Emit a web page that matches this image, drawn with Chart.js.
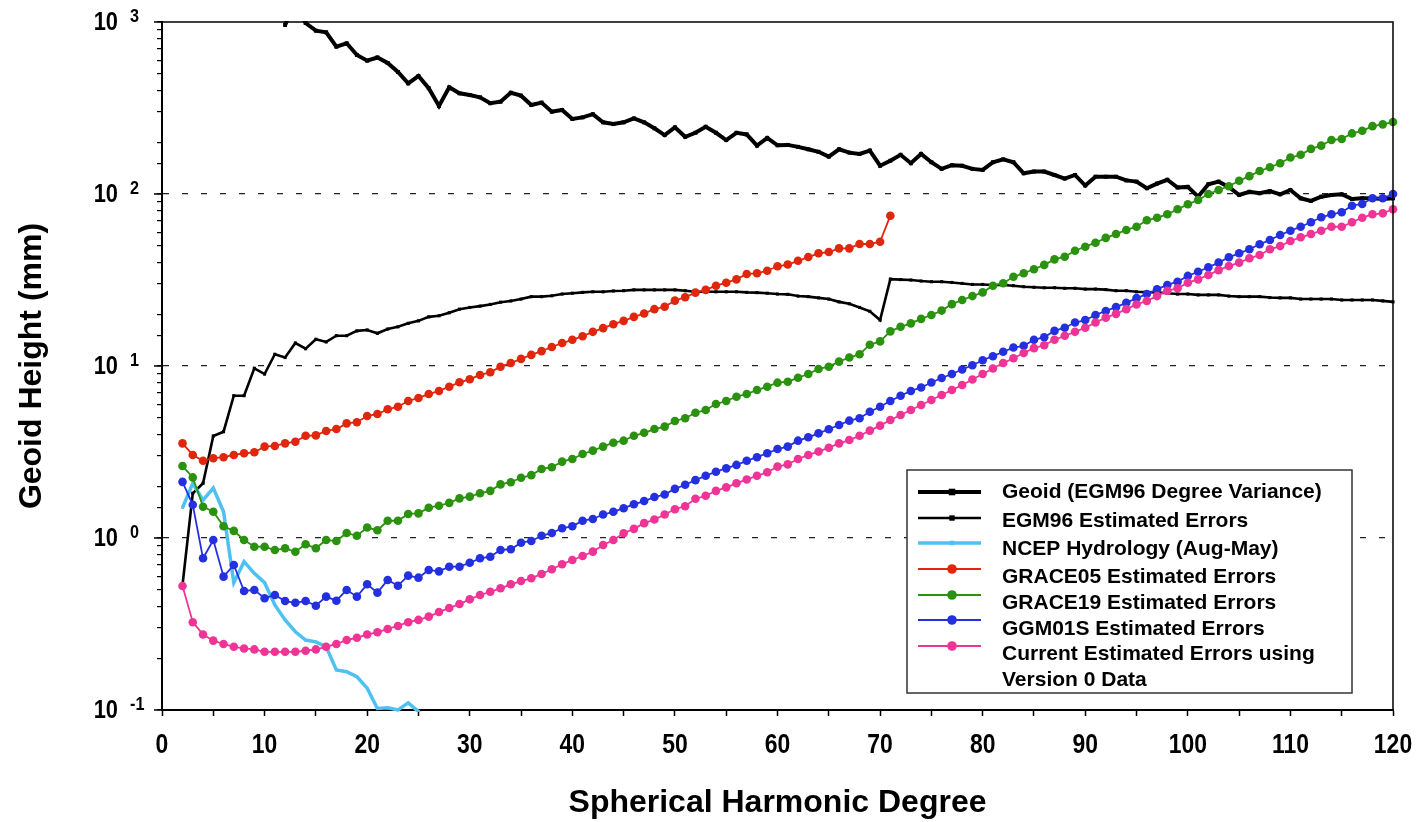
<!DOCTYPE html>
<html>
<head>
<meta charset="utf-8">
<script src="https://cdn.jsdelivr.net/npm/chart.js@4.4.1/dist/chart.umd.min.js"></script>
<style>
  html, body { margin: 0; padding: 0; background: #fff; }
  #wrap { width: 1418px; height: 822px; position: relative; }
</style>
</head>
<body>
<div id="wrap"><canvas id="geoidChart"></canvas></div>
<script>
// spherical harmonic degree (x) shared by all series
const degree = [2,3,4,5,6,7,8,9,10,11,12,13,14,15,16,17,18,19,20,21,22,23,24,25,26,27,28,29,30,31,
  32,33,34,35,36,37,38,39,40,41,42,43,44,45,46,47,48,49,50,51,52,53,54,55,56,57,58,59,60,61,
  62,63,64,65,66,67,68,69,70,71,72,73,74,75,76,77,78,79,80,81,82,83,84,85,86,87,88,89,90,91,
  92,93,94,95,96,97,98,99,100,101,102,103,104,105,106,107,108,109,110,111,112,113,114,115,116,117,118,119,120];

// geoid height in mm, one value per degree (null = off the top of the chart)
const geoidVariance = [null,null,null,null,null,null,null,null,null,null,
  961,1300,987,890,871,719,752,643,596,622,
  578,512,440,485,412,325,417,385,376,365,
  337,344,388,373,329,340,301,308,273,279,
  291,261,255,261,275,261,241,220,244,215,
  227,246,227,206,227,222,191,212,192,193,
  188,182,176,165,182,174,171,179,146,156,
  169,151,171,153,140,147,146,140,138,153,
  159,153,132,135,135,129,123,129,112,126,
  126,126,120,118,108,115,121,109,110,96.5,
  114,118,110,98.7,103,101,104,99.6,105.5,94.4,
  91.1,96.5,98.7,99.6,93.5,94.4,94.4,93.5,94.4];

const egm96Errors = [0.533,1.82,2.08,3.92,4.15,6.72,6.72,9.70,8.98,11.7,
  11.2,13.6,12.6,14.3,13.8,15.0,15.0,16.0,16.2,15.5,
  16.4,16.9,17.7,18.3,19.3,19.6,20.4,21.4,21.9,22.3,
  22.8,23.5,23.9,24.5,25.3,25.3,25.6,26.2,26.5,26.8,
  27.0,27.0,27.3,27.4,27.7,27.7,27.7,27.7,27.7,27.4,
  27.0,27.0,27.0,27.0,27.0,26.8,26.7,26.5,26.2,26.1,
  25.5,25.3,24.9,24.5,23.6,23.0,21.9,20.8,18.5,32.0,
  31.8,31.6,31.2,30.9,30.9,30.6,30.2,29.8,29.8,29.6,
  29.6,29.3,28.9,28.7,28.5,28.5,28.3,28.3,28.0,28.0,
  27.8,27.4,27.4,27.0,26.9,26.8,26.5,26.2,26.2,25.9,
  25.9,25.9,25.5,25.3,25.3,25.3,25.0,24.9,24.9,24.5,
  24.5,24.5,24.5,24.2,24.2,24.2,24.2,23.9,23.6];

// degrees 2..26
const ncepHydrology = [1.50,2.08,1.66,1.95,1.42,0.550,0.728,0.623,0.550,0.408,
  0.334,0.285,0.255,0.249,0.233,0.171,0.167,0.156,0.134,0.102,
  0.103,0.100,0.110,0.098,0.081];

// degrees 2..71
const grace05Errors = [3.55,3.04,2.81,2.91,2.95,3.04,3.11,3.15,3.40,3.43,
  3.55,3.63,3.93,3.95,4.19,4.30,4.64,4.71,5.12,5.26,
  5.60,5.80,6.26,6.52,6.87,7.16,7.58,8.04,8.37,8.87,
  9.19,9.91,10.4,11.0,11.6,12.2,12.9,13.6,14.2,14.9,
  15.8,16.6,17.5,18.3,19.3,20.2,21.4,22.1,24.0,25.1,
  26.7,27.7,29.3,30.5,31.9,34.3,34.6,35.8,38.0,38.9,
  40.9,43.0,45.2,46.0,48.3,48.3,51.2,51.2,52.8,74.8];

const grace19Errors = [2.62,2.25,1.52,1.42,1.17,1.10,0.974,0.890,0.890,0.851,
  0.871,0.832,0.919,0.871,0.974,0.960,1.07,1.03,1.15,1.11,
  1.26,1.26,1.38,1.39,1.50,1.54,1.60,1.70,1.74,1.82,
  1.88,2.05,2.11,2.24,2.32,2.52,2.58,2.78,2.88,3.08,
  3.22,3.40,3.58,3.68,3.93,4.09,4.30,4.44,4.79,4.97,
  5.35,5.55,6.01,6.26,6.63,6.87,7.25,7.58,8.00,8.10,
  8.55,8.98,9.61,9.91,10.6,11.2,11.7,13.3,13.9,15.9,
  16.9,17.7,18.8,19.8,21.0,22.9,24.2,25.5,26.8,29.3,
  30.3,33.0,34.6,36.5,38.7,41.7,43.2,46.8,49.4,52.1,
  55.6,58.5,61.8,64.5,70.3,72.8,76.2,81.5,87.1,92.3,
  100,105.5,111,119.5,127,136,143,151,163,169,
  183,191,206,209,225,233,248,254,262];

const ggm01sErrors = [2.12,1.56,0.762,0.974,0.596,0.697,0.492,0.499,0.446,0.466,
  0.430,0.420,0.430,0.404,0.456,0.432,0.499,0.456,0.538,0.481,
  0.570,0.528,0.604,0.588,0.652,0.640,0.681,0.681,0.718,0.762,
  0.778,0.852,0.860,0.939,0.961,1.03,1.07,1.14,1.17,1.26,
  1.29,1.37,1.42,1.49,1.57,1.64,1.73,1.79,1.93,2.04,
  2.17,2.30,2.43,2.54,2.66,2.81,2.95,3.11,3.29,3.40,
  3.68,3.85,4.06,4.29,4.54,4.81,4.97,5.42,5.80,6.26,
  6.72,7.16,7.50,8.02,8.52,8.98,9.54,10.1,10.8,11.4,
  12.1,12.8,13.1,14.2,14.7,16.0,16.7,17.9,18.5,19.8,
  20.9,22.0,23.3,24.8,26.2,27.9,29.6,30.9,33.4,35.3,
  37.5,39.9,42.9,45.2,47.7,51.0,54.0,57.8,61.2,64.5,
  68.5,73.2,76.2,78.3,85.5,87.5,94.4,94.4,100];

const currentErrors = [0.526,0.324,0.275,0.253,0.242,0.233,0.228,0.225,0.218,0.218,
  0.218,0.218,0.221,0.225,0.233,0.242,0.255,0.263,0.275,0.283,
  0.296,0.308,0.324,0.334,0.349,0.371,0.392,0.413,0.440,0.466,
  0.487,0.510,0.538,0.562,0.583,0.618,0.658,0.703,0.745,0.786,
  0.833,0.911,0.974,1.065,1.13,1.22,1.28,1.37,1.47,1.53,
  1.69,1.76,1.88,1.97,2.08,2.19,2.30,2.41,2.60,2.68,
  2.88,3.04,3.18,3.35,3.55,3.71,3.93,4.21,4.50,4.85,
  5.19,5.55,5.93,6.34,6.78,7.25,7.76,8.35,8.98,9.67,
  10.4,11.1,11.9,12.7,13.2,14.2,15.0,15.8,16.7,17.9,
  19.1,20.1,21.4,22.8,23.9,25.5,27.4,28.3,30.5,31.9,
  33.8,36.1,38.1,39.9,42.3,44.2,47.7,49.8,53.3,56.0,
  58.5,61.2,64.5,64.5,68.5,72.8,76.2,77.2,81.5];

const seriesNames = [
  "Geoid (EGM96 Degree Variance)",
  "EGM96 Estimated Errors",
  "NCEP Hydrology (Aug-May)",
  "GRACE05 Estimated Errors",
  "GRACE19 Estimated Errors",
  "GGM01S Estimated Errors",
  "Current Estimated Errors using\nVersion 0 Data",
];

const xTickLabels = [0,10,20,30,40,50,60,70,80,90,100,110,120];
const yTickExponents = [3,2,1,0,-1];

const FONT = '"Liberation Sans", Arial, Helvetica, sans-serif';

function pts(values) {
  return values
    .map((v, i) => ({ x: degree[i], y: v }))
    .filter(p => p.y !== null);
}

function squeezed(ctx, text, x, y, font, sx, align) {
  ctx.save();
  ctx.font = font;
  ctx.textAlign = align;
  ctx.textBaseline = "middle";
  ctx.translate(x, y);
  ctx.scale(sx, 1);
  ctx.fillText(text, 0, 0);
  ctx.restore();
}

const isDecade = v => Math.abs(Math.log10(v) - Math.round(Math.log10(v))) < 1e-9;

// box, y decade labels with superscripts, x labels, axis titles
const axisText = {
  id: "axisText",
  afterDraw(chart) {
    const { ctx, chartArea: a, scales: { x, y } } = chart;
    ctx.save();
    ctx.strokeStyle = "#000";
    ctx.lineWidth = 1.5;
    ctx.beginPath();
    ctx.moveTo(a.left, a.top);
    ctx.lineTo(a.right, a.top);
    ctx.lineTo(a.right, a.bottom);
    ctx.stroke();

    ctx.fillStyle = "#000";
    yTickExponents.forEach(e => {
      const py = y.getPixelForValue(Math.pow(10, e));
      ctx.lineWidth = 1.5;
      ctx.beginPath();
      ctx.moveTo(a.left - 8, py);
      ctx.lineTo(a.left, py);
      ctx.stroke();
      squeezed(ctx, "10", 118, py + 1, "bold 26px " + FONT, 0.84, "right");
      squeezed(ctx, String(e), 130, py - 5, "bold 18px " + FONT, 0.9, "left");
    });

    xTickLabels.forEach(v => {
      squeezed(ctx, String(v), x.getPixelForValue(v), 746, "bold 27px " + FONT, 0.85, "center");
    });

    squeezed(ctx, "Spherical Harmonic Degree", (a.left + a.right) / 2, 803, "bold 32px " + FONT, 1, "center");
    ctx.save();
    ctx.translate(32, (a.top + a.bottom) / 2);
    ctx.rotate(-Math.PI / 2);
    squeezed(ctx, "Geoid Height (mm)", 0, 0, "bold 32px " + FONT, 1, "center");
    ctx.restore();
    ctx.restore();
  },
};

// legend box inside the plot, lower right
const boxLegend = {
  id: "boxLegend",
  afterDraw(chart) {
    const { ctx } = chart;
    const lineY = [492, 518, 543, 569, 595, 620, 646];
    const textY = [492, 521, 549, 577, 603, 629, 654];
    ctx.save();
    ctx.fillStyle = "#fff";
    ctx.fillRect(907, 470, 445, 223);
    ctx.strokeStyle = "#333";
    ctx.lineWidth = 1.5;
    ctx.strokeRect(907, 470, 445, 223);

    chart.data.datasets.forEach((ds, i) => {
      const ly = lineY[i];
      ctx.strokeStyle = ds.borderColor;
      ctx.lineWidth = ds.borderWidth;
      ctx.beginPath();
      ctx.moveTo(918, ly);
      ctx.lineTo(981, ly);
      ctx.stroke();
      ctx.fillStyle = ds.pointBackgroundColor;
      const r = ds.pointRadius + 0.5;
      if (ds.pointStyle === "rect") {
        ctx.fillRect(952 - r, ly - r, 2 * r, 2 * r);
      } else {
        ctx.beginPath();
        ctx.arc(952, ly, r, 0, Math.PI * 2);
        ctx.fill();
      }
      ctx.fillStyle = "#000";
      ctx.font = "bold 21px " + FONT;
      ctx.textAlign = "left";
      ctx.textBaseline = "middle";
      ds.label.split("\n").forEach((line, k) => {
        ctx.fillText(line, 1002, textY[i] + k * 26);
      });
    });
    ctx.restore();
  },
};

const styles = [
  { color: "#000000", width: 4, style: "rect", radius: 2.8 },
  { color: "#000000", width: 2.6, style: "rect", radius: 2.2 },
  { color: "#4fc1f0", width: 3.5, style: "rect", radius: 1.8 },
  { color: "#e0260c", width: 1.8, style: "circle", radius: 4.3 },
  { color: "#2a920f", width: 1.8, style: "circle", radius: 4.3 },
  { color: "#2430e0", width: 1.8, style: "circle", radius: 4.3 },
  { color: "#ee3596", width: 1.8, style: "circle", radius: 4.3 },
];

const seriesValues = [geoidVariance, egm96Errors, ncepHydrology, grace05Errors,
  grace19Errors, ggm01sErrors, currentErrors];

const datasets = seriesValues.map((vals, i) => ({
  label: seriesNames[i],
  data: pts(vals),
  borderColor: styles[i].color,
  backgroundColor: styles[i].color,
  pointBackgroundColor: styles[i].color,
  pointBorderColor: styles[i].color,
  pointBorderWidth: 0,
  borderWidth: styles[i].width,
  pointStyle: styles[i].style,
  pointRadius: styles[i].radius,
  tension: 0,
  // later series sit on top, like the original
  order: seriesValues.length - i,
  clip: { left: 8, right: 8, top: 1, bottom: 2 },
}));

new Chart(document.getElementById("geoidChart"), {
  type: "line",
  data: { datasets },
  options: {
    responsive: true,
    maintainAspectRatio: false,
    animation: false,
    layout: { padding: { top: 22, right: 25, left: 0, bottom: 0 } },
    plugins: { legend: { display: false }, tooltip: { enabled: false } },
    scales: {
      x: {
        type: "linear",
        min: 0,
        max: 120,
        ticks: { stepSize: 5, display: false },
        grid: { drawOnChartArea: false, drawTicks: true, tickLength: 6, tickColor: "#000", tickWidth: 1.5 },
        border: { display: true, color: "#000", width: 2 },
        afterFit(scale) { scale.height = 112; },
      },
      y: {
        type: "logarithmic",
        min: 0.1,
        max: 1000,
        ticks: { display: false, autoSkip: false },
        grid: {
          drawTicks: true,
          tickLength: 5,
          tickColor: "#000",
          tickWidth: 1.2,
          lineWidth: 1.2,
          color: c => (c.tick && isDecade(c.tick.value) && c.tick.value > 0.15 && c.tick.value < 900)
            ? "#222" : "rgba(0,0,0,0)",
        },
        border: { display: true, color: "#000", width: 2, dash: [6, 13] },
        afterFit(scale) { scale.width = 162; },
      },
    },
  },
  plugins: [axisText, boxLegend],
});
</script>
</body>
</html>
